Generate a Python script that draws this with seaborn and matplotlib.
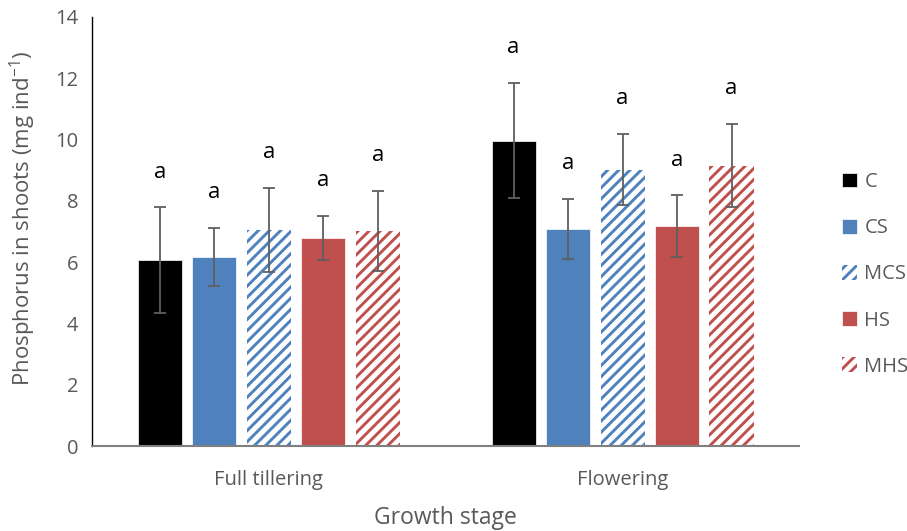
import matplotlib
matplotlib.use("Agg")
import matplotlib.pyplot as plt
import seaborn as sns
import pandas as pd

# data
stages = ["Full tillering", "Flowering"]
treatments = ["C", "CS", "MCS", "HS", "MHS"]
mean_full = [6.07, 6.18, 7.05, 6.80, 7.02]
mean_flow = [9.96, 7.08, 9.02, 7.17, 9.15]
err_full = [1.72, 0.95, 1.37, 0.72, 1.30]
err_flow = [1.88, 0.98, 1.17, 1.01, 1.36]
letters_full = ["a", "a", "a", "a", "a"]
letters_flow = ["a", "a", "a", "a", "a"]

colors = ["#000000", "#4F81BD", "#4F81BD", "#C0504D", "#C0504D"]
hatched = ["MCS", "MHS"]

df = pd.DataFrame({
    "stage": [stages[0]] * 5 + [stages[1]] * 5,
    "treatment": treatments * 2,
    "value": mean_full + mean_flow,
    "err": err_full + err_flow,
    "letter": letters_full + letters_flow,
})

sns.set_style("white")
plt.rcParams["font.family"] = ["Open Sans", "DejaVu Sans"]
plt.rcParams["hatch.linewidth"] = 2.1

fig = plt.figure(figsize=(9.07, 5.31), dpi=100)
ax = fig.add_axes([0.1014, 0.160, 0.780, 0.808])

sns.barplot(data=df, x="stage", y="value", hue="treatment", order=stages,
            hue_order=treatments, palette=colors, saturation=1, width=0.77,
            gap=0.19, errorbar=None, ax=ax, legend=False)

bars = list(ax.containers)
for cont, trt, col in zip(bars, treatments, colors):
    cont.set_label(trt)
    sub = df[df["treatment"] == trt].set_index("stage").loc[stages]
    xs = [p.get_x() + p.get_width() / 2 for p in cont.patches]
    for p in cont.patches:
        if trt in hatched:
            p.set_facecolor("white")
            p.set_edgecolor(col)
            p.set_hatch("///")
            p.set_linewidth(0)
        else:
            p.set_edgecolor("white")
            p.set_linewidth(0.5)
    ax.errorbar(xs, sub["value"], yerr=sub["err"], fmt="none",
                ecolor="#5f5f5f", elinewidth=1.3, capsize=4.3, capthick=1.3)
    for x, v, e, let in zip(xs, sub["value"], sub["err"], sub["letter"]):
        ax.text(x, v + e + 1.15, let, ha="center", va="center",
                fontsize=16, color="black", fontweight="medium")

ax.set_ylim(0, 14)
ax.set_yticks(range(0, 15, 2))
ax.set_xlim(-0.5, 1.5)
ax.tick_params(axis="both", length=0, labelsize=14.5, colors="#595959", pad=10)
ax.tick_params(axis="x", pad=17)
for s in ["top", "right"]:
    ax.spines[s].set_visible(False)
ax.spines["left"].set_color("black")
ax.spines["left"].set_linewidth(1.0)
ax.spines["bottom"].set_color("#7f7f7f")
ax.spines["bottom"].set_linewidth(1.5)

ax.set_xlabel("Growth stage", fontsize=16.5, color="#595959", labelpad=12)
ax.set_ylabel(r"Phosphorus in shoots (mg ind$^{\mathregular{-1}}$)",
              fontsize=16, color="#595959")
ax.yaxis.set_label_coords(-0.076, 0.53)

leg = ax.legend(handles=bars, loc="center left",
                bbox_to_anchor=(1.035, 0.40), frameon=False, fontsize=14.5,
                handlelength=0.75, handleheight=0.75, handletextpad=0.35,
                labelspacing=1.3)
for t in leg.get_texts():
    t.set_color("#595959")

fig.savefig("out.png", dpi=100)
